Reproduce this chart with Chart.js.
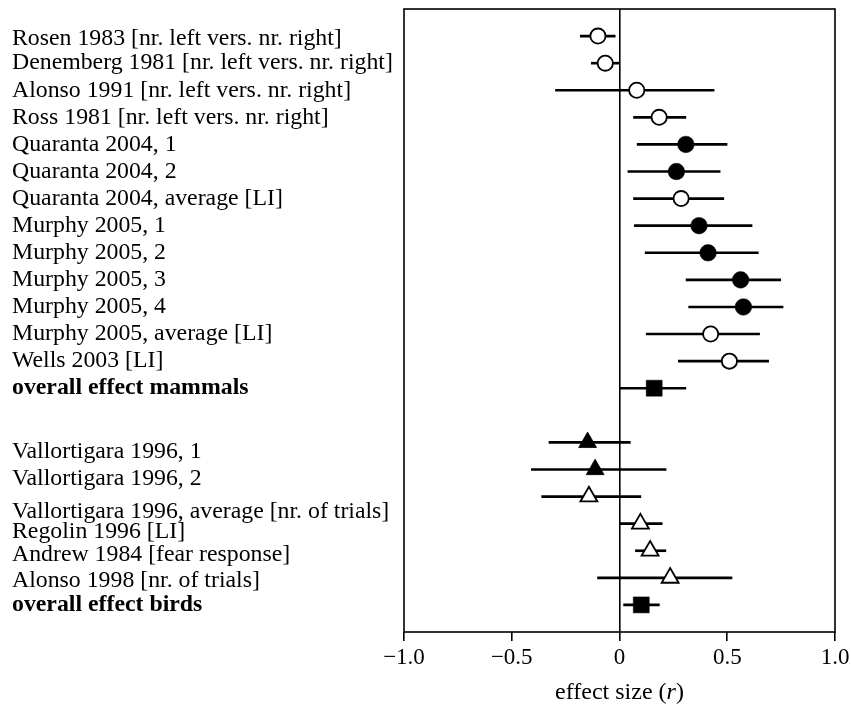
<!DOCTYPE html>
<html>
<head>
<meta charset="utf-8">
<script src="https://cdn.jsdelivr.net/npm/chart.js@4.4.0/dist/chart.umd.min.js"></script>
<style>
  html, body { margin: 0; padding: 0; background: #fff; }
  #wrap { width: 851px; height: 708px; }
</style>
</head>
<body>
<div id="wrap"><canvas id="c" width="851" height="708"></canvas></div>
<script>
// ---- data ----
const labels = [
  "Rosen 1983 [nr. left vers. nr. right]",
  "Denemberg 1981 [nr. left vers. nr. right]",
  "Alonso 1991 [nr. left vers. nr. right]",
  "Ross 1981 [nr. left vers. nr. right]",
  "Quaranta 2004, 1",
  "Quaranta 2004, 2",
  "Quaranta 2004, average [LI]",
  "Murphy 2005, 1",
  "Murphy 2005, 2",
  "Murphy 2005, 3",
  "Murphy 2005, 4",
  "Murphy 2005, average [LI]",
  "Wells 2003 [LI]",
  "overall effect mammals",
  "Vallortigara 1996, 1",
  "Vallortigara 1996, 2",
  "Vallortigara 1996, average [nr. of trials]",
  "Regolin 1996 [LI]",
  "Andrew 1984 [fear response]",
  "Alonso 1998 [nr. of trials]",
  "overall effect birds"
];
// row index of each study (gap between mammals and birds)
const rows = [0,1,2,3,4,5,6,7,8,9,10,11,12,13,15,16,17,18,19,20,21];
// where each label sits (row units)
const labelRows = [0.08,1,2,3,4,5,6,7,8,9,10,11,12,13,15.35,16.35,17.55,18.3,19.15,20.1,21];
const effect = [-0.100,-0.066,0.080,0.184,0.308,0.264,0.286,0.369,0.411,0.562,0.575,0.423,0.510,0.161,
                -0.148,-0.113,-0.142,0.097,0.142,0.235,0.101];
const ciLow  = [-0.182,-0.131,-0.297,0.065,0.082,0.039,0.065,0.069,0.119,0.309,0.321,0.124,0.273,0.000,
                -0.327,-0.409,-0.361,0.000,0.074,-0.102,0.019];
const ciHigh = [-0.020,0.000,0.439,0.308,0.499,0.467,0.484,0.615,0.644,0.748,0.759,0.650,0.692,0.308,
                0.050,0.216,0.099,0.198,0.215,0.522,0.185];
const markerKind = ["openCircle","openCircle","openCircle","openCircle","filledCircle","filledCircle","openCircle",
                    "filledCircle","filledCircle","filledCircle","filledCircle","openCircle","openCircle","square",
                    "filledTriangle","filledTriangle","openTriangle","openTriangle","openTriangle","openTriangle","square"];
const xTicks = [-1, -0.5, 0, 0.5, 1];

// ---- chart ----
const FONT = '"Liberation Serif", "Times New Roman", serif';
const FS = 23.8;    // row labels
const FS_TITLE = 24;
const FS_TICK = 23; // x tick labels

function pts(kind) {
  const out = [];
  effect.forEach((v, i) => { if (markerKind[i] === kind) out.push({x: v, y: rows[i]}); });
  return out;
}

const styles = {
  openCircle:     {pointStyle: 'circle',   radius: 7.6, bg: '#fff', border: '#000', bw: 1.8},
  filledCircle:   {pointStyle: 'circle',   radius: 8.3, bg: '#000', border: '#000', bw: 0.5},
  square:         {pointStyle: 'rect',     radius: 11.3, bg: '#000', border: '#000', bw: 0.5},
  filledTriangle: {pointStyle: 'triangle', radius: 10.3, bg: '#000', border: '#000', bw: 0.8},
  openTriangle:   {pointStyle: 'triangle', radius: 9.8, bg: '#fff', border: '#000', bw: 1.8}
};

const datasets = Object.keys(styles).map(k => ({
  type: 'scatter',
  data: pts(k),
  pointStyle: styles[k].pointStyle,
  pointRadius: styles[k].radius,
  pointHoverRadius: styles[k].radius,
  backgroundColor: styles[k].bg,
  borderColor: styles[k].border,
  pointBorderWidth: styles[k].bw,
  showLine: false,
  order: 0
}));

datasets.push({
  type: 'bar',
  indexAxis: 'y',
  data: rows.map((r, i) => ({y: r, x: [ciLow[i], ciHigh[i]]})),
  backgroundColor: '#000',
  borderWidth: 0,
  barThickness: 2,
  order: 5
});

const framePlugin = {
  id: 'frame',
  afterDraw(chart) {
    const {ctx, chartArea: a} = chart;
    ctx.save();
    ctx.strokeStyle = '#000';
    ctx.lineWidth = 1.6;
    ctx.strokeRect(a.left, a.top, a.right - a.left, a.bottom - a.top);
    // axis title with italic r
    const parts = [
      {t: 'effect size (', f: FS_TITLE + 'px ' + FONT},
      {t: 'r', f: 'italic ' + FS_TITLE + 'px ' + FONT},
      {t: ')', f: FS_TITLE + 'px ' + FONT}
    ];
    let total = 0;
    parts.forEach(p => { ctx.font = p.f; p.w = ctx.measureText(p.t).width; total += p.w; });
    let x = (a.left + a.right) / 2 - total / 2;
    ctx.fillStyle = '#000';
    ctx.textBaseline = 'middle';
    ctx.textAlign = 'left';
    parts.forEach(p => { ctx.font = p.f; ctx.fillText(p.t, x, 693); x += p.w; });
    ctx.restore();
  }
};

new Chart(document.getElementById('c'), {
  type: 'scatter',
  data: { datasets },
  plugins: [framePlugin],
  options: {
    responsive: false,
    animation: false,
    events: [],
    layout: { autoPadding: false, padding: { left: 12, top: 9, right: 16, bottom: 0 } },
    plugins: { legend: { display: false }, tooltip: { enabled: false } },
    scales: {
      x: {
        type: 'linear',
        min: -1, max: 1,
        offset: false,
        beginAtZero: false,
        afterBuildTicks: s => { s.ticks = xTicks.map(v => ({value: v})); },
        afterFit: s => { s.height = 76; s.paddingLeft = 0; s.paddingRight = 0; },
        border: { display: false },
        grid: {
          offset: false,
          drawOnChartArea: true,
          color: c => (c.tick && c.tick.value === 0) ? '#000' : 'rgba(0,0,0,0)',
          lineWidth: 1.6,
          tickColor: '#000',
          tickLength: 9,
          tickWidth: 1.6
        },
        ticks: {
          color: '#000',
          padding: 3,
          maxRotation: 0,
          font: { family: FONT, size: FS_TICK },
          callback: v => v === 0 ? '0' : (v < 0 ? '\u2212' : '') + Math.abs(v).toFixed(1)
        }
      },
      y: {
        type: 'linear',
        min: -1, max: 22,
        reverse: true,
        offset: false,
        afterBuildTicks: s => { s.ticks = labelRows.map(v => ({value: v})); },
        afterFit: s => { s.width = 392; s.paddingTop = 0; s.paddingBottom = 0; },
        border: { display: false },
        grid: { display: false, drawTicks: false, offset: false },
        ticks: {
          color: '#000',
          crossAlign: 'far',
          autoSkip: false,
          font: c => ({ family: FONT, size: FS, weight: (labels[c.index] || '').startsWith('overall') ? 'bold' : 'normal' }),
          callback: (v, i) => labels[i]
        }
      }
    }
  }
});
</script>
</body>
</html>
